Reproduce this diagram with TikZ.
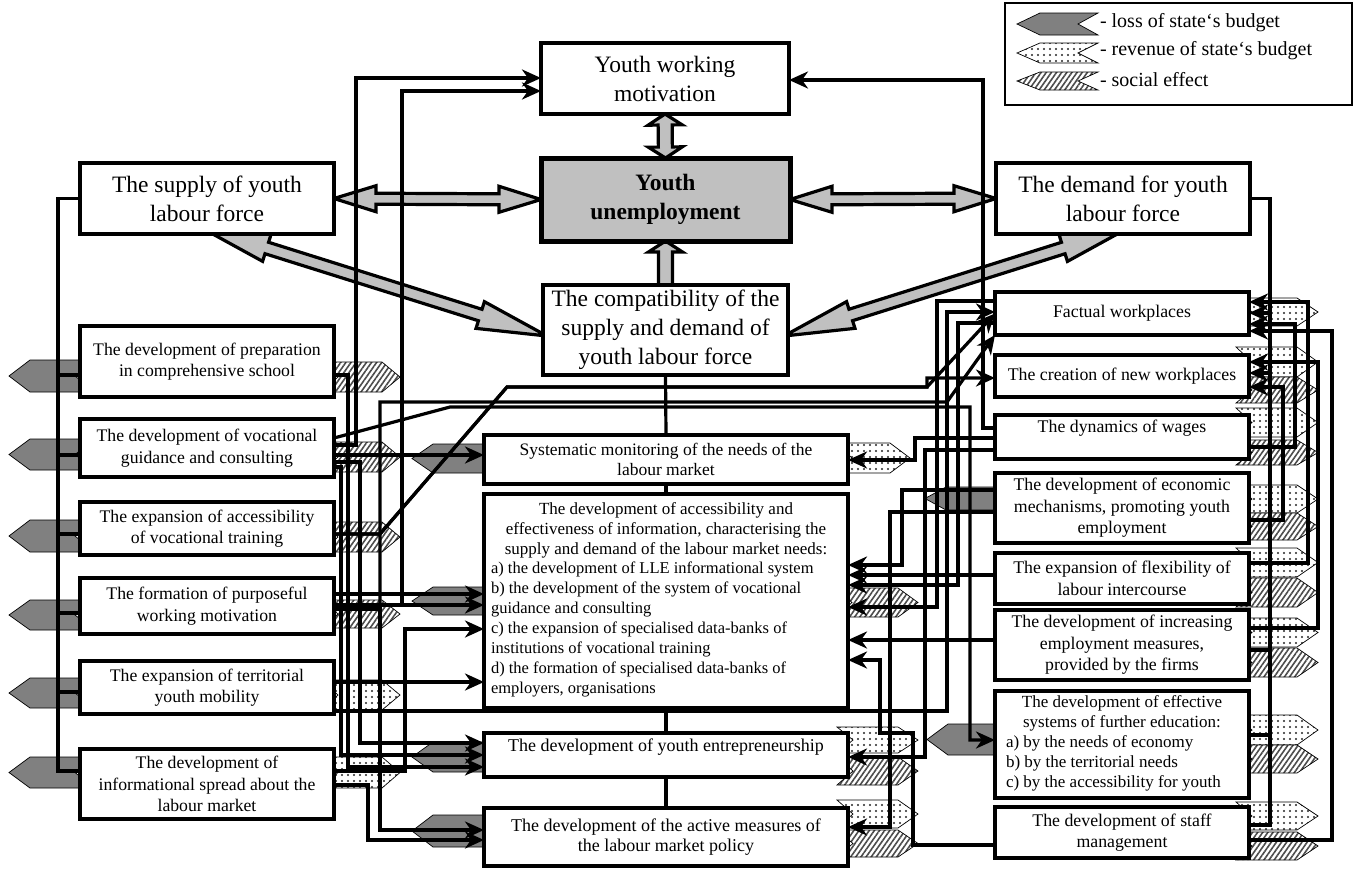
\documentclass[tikz,border=0pt]{standalone}
\usepackage{fontspec}
\setmainfont{Liberation Serif}
\usetikzlibrary{arrows.meta,patterns.meta,calc}
\definecolor{lossgray}{RGB}{128,128,128}
\definecolor{fatgray}{RGB}{192,192,192}
\pgfdeclarelayer{bg}\pgfdeclarelayer{fatl}\pgfdeclarelayer{mid}
\pgfsetlayers{bg,fatl,mid,main}
% left-pointing notched arrow: style, xtip, xtail, ytop, ybot, tiplength, notch
\newcommand\chL[7]{\path[#1] (#2,{(#4+#5)/2}) -- ({#2+#6},#4) -- (#3,#4) -- ({#3-#7},{(#4+#5)/2}) -- (#3,#5) -- ({#2+#6},#5) -- cycle;}
% right-pointing notched arrow
\newcommand\chR[7]{\path[#1] (#2,{(#4+#5)/2}) -- ({#2-#6},#4) -- (#3,#4) -- ({#3+#7},{(#4+#5)/2}) -- (#3,#5) -- ({#2-#6},#5) -- cycle;}
% fat double arrow A<->B : A, B, head length, shaft half width, head half width
\newcommand\fatdbl[5]{%
 \coordinate (fa1) at ($(#1)!#3!(#2)$); \coordinate (fb1) at ($(#2)!#3!(#1)$);
 \draw[fat] (#1) -- ($(fa1)!#5!90:(#2)$) -- ($(fa1)!#4!90:(#2)$) -- ($(fb1)!#4!-90:(#1)$) -- ($(fb1)!#5!-90:(#1)$) -- (#2)
  -- ($(fb1)!#5!90:(#1)$) -- ($(fb1)!#4!90:(#1)$) -- ($(fa1)!#4!-90:(#2)$) -- ($(fa1)!#5!-90:(#2)$) -- cycle;}
% fat single arrow A->B
\newcommand\fatone[5]{%
 \coordinate (fb1) at ($(#2)!#3!(#1)$);
 \draw[fat] ($(#1)!#4!90:(#2)$) -- ($(fb1)!#4!-90:(#1)$) -- ($(fb1)!#5!-90:(#1)$) -- (#2)
  -- ($(fb1)!#5!90:(#1)$) -- ($(fb1)!#4!90:(#1)$) -- ($(#1)!#4!-90:(#2)$) -- cycle;}
\tikzset{
 box/.style={draw,line width=3.3pt,fill=white,inner sep=0pt,outer sep=0pt,align=center},
 bigf/.style={font=\fontsize{23.5}{29}\selectfont},
 lf/.style={font=\fontsize{17.7}{21.5}\selectfont},
 mf/.style={font=\fontsize{16.5}{20}\selectfont},
 ef/.style={font=\fontsize{18}{20.5}\selectfont},
 rf/.style={font=\fontsize{17.8}{21.5}\selectfont},
 lg/.style={font=\fontsize{20}{22}\selectfont},
 txt/.style={inner sep=0pt,outer sep=0pt},
 ln/.style={line width=3.2pt,line join=miter},
 ar/.style={-{Stealth[length=19pt,width=17pt,inset=6pt]}},
 fat/.style={draw=black,line width=3.2pt,fill=fatgray,line join=miter},
 loss/.style={draw=black,line width=0.7pt,fill=lossgray},
 rev/.style={draw=black,line width=0.7pt,preaction={fill=white},pattern={Dots[distance=6pt,radius=1.1pt]},pattern color=black!85},
 soc/.style={draw=black,line width=0.7pt,preaction={fill=white},pattern={Lines[angle=55,distance=4.2pt,line width=1.6pt]},pattern color=black!70},
}
\begin{document}
\begin{tikzpicture}[x=1pt,y=-1pt]
\useasboundingbox (0,0) rectangle (1355,871);

% ---------------- boxes ----------------
\node[box,bigf,minimum width=248pt,minimum height=71pt] (ywm) at (665,78.5) {Youth working\\motivation};
\node[box,font=\fontsize{23.5}{29}\selectfont\bfseries,fill=fatgray,line width=5pt,minimum width=249pt,minimum height=83pt] (unemp) at (665.5,199.5) {Youth\\unemployment};
\node[box,bigf,minimum width=254pt,minimum height=71pt] (sup) at (207,198.5) {The supply of youth\\labour force};
\node[box,bigf,minimum width=254pt,minimum height=71pt] (dem) at (1123,198.5) {The demand for youth\\labour force};
\node[box,bigf,minimum width=245pt,minimum height=90pt] (comp) at (665.5,330) {The compatibility of the\\supply and demand of\\youth labour force};

\node[box,lf,minimum width=254pt,minimum height=71pt] (prep) at (207,361.5) {The development of preparation\\in comprehensive school};
\node[box,lf,minimum width=254pt,minimum height=58pt] (voc) at (207,448) {The development of vocational\\guidance and consulting};
\node[box,lf,minimum width=254pt,minimum height=53pt] (acc) at (207,528.5) {The expansion of accessibility\\of vocational training};
\node[box,lf,minimum width=254pt,minimum height=56pt] (purp) at (207,606) {The formation of purposeful\\working motivation};
\node[box,lf,minimum width=254pt,minimum height=53pt] (terr) at (207,687.5) {The expansion of territorial\\youth mobility};
\node[box,lf,minimum width=254pt,minimum height=70pt] (info) at (207,784) {The development of\\informational spread about the\\labour market};

\node[box,font=\fontsize{17.5}{20}\selectfont,minimum width=364pt,minimum height=49pt] (sys) at (666,459.5) {Systematic monitoring of the needs of the\\labour market};
\node[box,minimum width=364pt,minimum height=214pt] (big) at (666,601) {};
\node[txt,font=\fontsize{17}{20}\selectfont,align=center] (bigtop) at (666,530.5) {The development of accessibility and\\effectiveness of information, characterising the\\supply and demand of the labour market needs:};
\node[txt,mf,align=left,anchor=west] (bigbot) at (491,629.5) {a) the development of LLE informational system\\b) the development of the system of vocational\\guidance and consulting\\c) the expansion of specialised data-banks of\\institutions of vocational training\\d) the formation of specialised data-banks of\\employers, organisations};
\node[box,ef,minimum width=364pt,minimum height=44pt] (ent) at (666,755) {The development of youth entrepreneurship\\\mbox{}};
\node[box,ef,minimum width=364pt,minimum height=58pt] (act) at (666,837) {The development of the active measures of\\the labour market policy};

\node[box,rf,minimum width=254pt,minimum height=43pt] (fact) at (1122,313.5) {Factual workplaces};
\node[box,rf,minimum width=254pt,minimum height=42pt] (crea) at (1122,376) {The creation of new workplaces};
\node[box,rf,minimum width=254pt,minimum height=44pt] (dyn) at (1122,437) {The dynamics of wages\\\mbox{}};
\node[box,rf,minimum width=254pt,minimum height=70pt] (eco) at (1122,508) {The development of economic\\mechanisms, promoting youth\\employment};
\node[box,rf,minimum width=254pt,minimum height=51pt] (flex) at (1122,578.5) {The expansion of flexibility of\\labour intercourse};
\node[box,rf,minimum width=254pt,minimum height=70pt] (incr) at (1122,645) {The development of increasing\\employment measures,\\provided by the firms};
\node[box,minimum width=254pt,minimum height=107pt] (eff) at (1122,744.5) {};
\node[txt,font=\fontsize{17}{20}\selectfont,align=center] (efftop) at (1122,713) {The development of effective\\systems of further education:};
\node[txt,font=\fontsize{17}{20}\selectfont,align=left,anchor=west] (effbot) at (1006,763) {a) by the needs of economy\\b) by the territorial needs\\c) by the accessibility for youth};
\node[box,rf,minimum width=254pt,minimum height=51pt] (staff) at (1122,832.5) {The development of staff\\management};

% legend
\node[box,fill=none,line width=1.5pt,minimum width=347pt,minimum height=102pt] (leg) at (1178.5,54) {};
\node[txt,lg,anchor=west] (leg1) at (1100,23) {- loss of state‘s budget};
\node[txt,lg,anchor=west] (leg2) at (1100,51) {- revenue of state‘s budget};
\node[txt,lg,anchor=west] (leg3) at (1100,80) {- social effect};

% ---------------- effect arrows (background) ----------------
\begin{pgfonlayer}{bg}
\chL{loss}{1017}{1098}{13}{35}{23}{20}
\chL{rev}{1017}{1098}{43}{63}{23}{20}
\chL{soc}{1017}{1098}{72}{90}{23}{20}
% left column
\chL{loss}{9}{95}{360}{392}{21}{20}
\chL{loss}{9}{95}{439}{470}{21}{20}
\chL{loss}{9}{95}{520}{552}{21}{20}
\chL{loss}{9}{95}{600}{630}{21}{20}
\chL{loss}{9}{95}{678}{708}{21}{20}
\chL{loss}{9}{95}{757}{788}{21}{20}
\chR{soc}{400}{322}{362}{392}{18}{16}
\chR{soc}{400}{322}{442}{472}{18}{16}
\chR{soc}{400}{322}{522}{552}{18}{16}
\chR{soc}{400}{322}{600}{628}{18}{16}
\chR{rev}{400}{322}{680}{710}{18}{16}
\chR{rev}{400}{322}{757}{788}{18}{16}
% middle column
\chL{loss}{412}{500}{444}{473}{21}{15}
\chL{loss}{412}{500}{587}{615}{21}{15}
\chL{loss}{412}{500}{742}{772}{21}{15}
\chL{loss}{412}{500}{815}{847}{21}{15}
\chR{rev}{910}{836}{443}{473}{20}{16}
\chR{soc}{918}{836}{588}{617}{20}{16}
\chR{rev}{918}{837}{727}{753}{20}{16}
\chR{soc}{918}{837}{757}{785}{20}{16}
\chR{rev}{918}{837}{800}{828}{20}{16}
\chR{soc}{918}{837}{830}{857}{20}{16}
% right column
\chL{loss}{925}{1010}{487}{510}{21}{15}
\chL{loss}{927}{1010}{724}{755}{21}{15}
\chR{rev}{1318}{1236}{298}{326}{21}{16}
\chR{rev}{1318}{1236}{347}{377}{21}{16}
\chR{soc}{1318}{1236}{377}{403}{21}{16}
\chR{rev}{1318}{1236}{408}{437}{21}{16}
\chR{soc}{1318}{1236}{440}{465}{21}{16}
\chR{rev}{1318}{1236}{485}{513}{21}{16}
\chR{soc}{1318}{1236}{513}{540}{21}{16}
\chR{rev}{1318}{1236}{548}{577}{21}{16}
\chR{soc}{1318}{1236}{578}{607}{21}{16}
\chR{rev}{1318}{1236}{618}{647}{21}{16}
\chR{soc}{1318}{1236}{648}{677}{21}{16}
\chR{rev}{1318}{1236}{715}{745}{21}{16}
\chR{soc}{1318}{1236}{745}{773}{21}{16}
\chR{rev}{1318}{1236}{802}{830}{21}{16}
\chR{soc}{1318}{1236}{832}{860}{21}{16}
\end{pgfonlayer}

% ---------------- fat arrows ----------------
\begin{pgfonlayer}{fatl}
\fatdbl{sup.east}{unemp.west}{42pt}{5.5pt}{13pt}
\fatdbl{unemp.east}{dem.west}{42pt}{5.5pt}{13pt}
\fatdbl{ywm.south}{unemp.north}{11pt}{7pt}{17pt}
\fatone{comp.north}{unemp.south}{11pt}{7pt}{17pt}
\coordinate (sd1) at ($(sup.south)+(-7,-7)$);
\coordinate (sd2) at ($(comp.west)+(4,6)$);
\coordinate (dd1) at ($(dem.south)+(7,-7)$);
\coordinate (dd2) at ($(comp.east)+(-4,6)$);
\fatdbl{sd1}{sd2}{70pt}{6pt}{14pt}
\fatdbl{dd1}{dd2}{70pt}{6pt}{14pt}
\end{pgfonlayer}

% ---------------- connectors ----------------
\begin{pgfonlayer}{mid}
% left bus
\draw[ln] (sup.west) -| (58,771) -- (info.west |- 0,771);
\draw[ln] (prep.west |- 0,375) -- (58,375);
\draw[ln] (voc.west |- 0,455) -- (58,455);
\draw[ln] (acc.west |- 0,534) -- (58,534);
\draw[ln] (purp.west |- 0,613) -- (58,613);
\draw[ln] (terr.west |- 0,692) -- (58,692);
% left column outputs
\draw[ln,ar] (voc.east |- 0,445) -| (356,78) -- (ywm.west |- 0,78);
\draw[ln,ar] (purp.east |- 0,605) -| (402,91) -- (ywm.west |- 0,91);
\draw[ln,ar] (purp.east |- 0,605) -- (big.west |- 0,605);
\draw[ln,ar] (purp.east |- 0,594) -- (big.west |- 0,594);
\draw[ln,ar] (voc.east |- 0,455) -- (sys.west |- 0,455);
\draw[ln,ar] (acc.east |- 0,534) -- (380,534) -- (507,387) -- (927,387) -- (927,378) -- (crea.west |- 0,378);
\draw[ln,ar] (acc.east |- 0,534) -- (380,534) -- (507,387) -- (927,387) -- (fact.west);
\draw[ln,ar] (purp.east |- 0,609) -| (380,402) -- (947,402) -- (fact.south west);
\draw[ln,ar] (purp.east |- 0,609) -| (380,830) -- (act.west |- 0,830);
\draw[ln,ar] (voc.east |- 0,438) -- (450,407) -- (970,407) |- (eff.west |- 0,740);
\draw[ln,ar] (voc.east |- 0,462) -| (360,743) -- (ent.west |- 0,743);
\draw[ln,ar] (prep.east |- 0,375) -| (348,767) -- (ent.west |- 0,767);
\draw[ln,ar] (voc.east |- 0,467) -| (341,755) -- (ent.west |- 0,755);
\draw[ln,ar] (info.east |- 0,785) -| (368,840) -- (act.west |- 0,840);
\draw[ln,ar] (info.east |- 0,771) -| (405,629) -- (big.west |- 0,629);
\draw[ln,ar] (terr.east |- 0,682) -- (big.west |- 0,682);
\draw[ln,ar] (terr.east |- 0,711) -| (947,312) -- (fact.west |- 0,312);
% middle spine
\draw[ln] (comp.south) -- (sys.north);
\draw[ln] (sys.south) -- (big.north);
\draw[ln] (big.south) -- (ent.north);
\draw[ln] (ent.south) -- (act.north);
% right column to middle
\draw[ln,ar] (dyn.west |- 0,438) -| (915,460) -- (sys.east |- 0,460);
\draw[ln,ar] (eco.west |- 0,490) -| (902,565) -- (big.east |- 0,565);
\draw[ln,ar] (flex.west |- 0,575) -- (big.east |- 0,575);
\draw[ln,ar] (fact.west |- 0,301) -| (937,607) -- (big.east |- 0,607);
\draw[ln,ar] (fact.west |- 0,323) -| (958,585) -- (big.east |- 0,585);
\draw[ln,ar] (incr.west |- 0,640) -- (big.east |- 0,640);
\draw[ln,ar] (staff.west |- 0,845) -| (913,733) -| (880,660) -- (big.east |- 0,660);
\draw[ln,ar] (eco.west |- 0,512) -| (890,827) -- (act.east |- 0,827);
\draw[ln,ar] (dyn.west |- 0,450) -| (925,757) -- (ent.east |- 0,757);
% to youth working motivation
\draw[ln,ar] (dyn.west |- 0,428) -| (983,80) -- (ywm.east |- 0,80);
% right buses
\draw[ln] (dem.east) -| (1270,825) -- (staff.east |- 0,825);
\draw[ln,ar] (eff.east |- 0,735) -| (1270,313) -- (fact.east |- 0,313);
\draw[ln,ar] (incr.east |- 0,650) -| (1270,373) -- (crea.east |- 0,373);
\draw[ln,ar] (eco.east |- 0,520) -| (1283,387) -- (crea.east |- 0,387);
\draw[ln,ar] (flex.east |- 0,563) -| (1308,302) -- (fact.east |- 0,302);
\draw[ln,ar] (dyn.east |- 0,447) -| (1295,324) -- (fact.east |- 0,324);
\draw[ln,ar] (staff.east |- 0,840) -| (1332,331) -- (fact.east |- 0,331);
\draw[ln,ar] (incr.east |- 0,628) -| (1318,362) -- (crea.east |- 0,362);
\end{pgfonlayer}
\end{tikzpicture}
\end{document}
